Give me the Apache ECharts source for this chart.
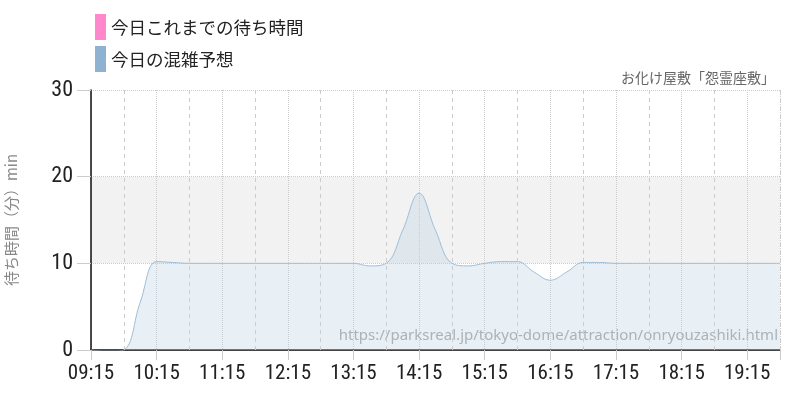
<!DOCTYPE html>
<html><head><meta charset="utf-8">
<script src="https://cdn.jsdelivr.net/npm/echarts@6/dist/echarts.min.js"></script>
<style>html,body{margin:0;padding:0;background:#fff}#c{width:800px;height:400px}</style>
</head><body><div id="c"></div>
<script>
// ---- data ----
const chartTitle = 'お化け屋敷「怨霊座敷」';
const sourceUrl = 'https://parksreal.jp/tokyo-dome/attraction/onryouzashiki.html';
const seriesNames = ['今日これまでの待ち時間', '今日の混雑予想'];
const yAxisName = '待ち時間（分）min';
const startTime = '09:15';
const endTime = '19:45';
const yTicks = [0, 10, 20, 30];
const times = ['09:15','09:30','09:45','10:00','10:15','10:30','10:45','11:00','11:15','11:30','11:45','12:00','12:15','12:30','12:45','13:00','13:15','13:30','13:45','14:00','14:15','14:30','14:45','15:00','15:15','15:30','15:45','16:00','16:15','16:30','16:45','17:00','17:15','17:30','17:45','18:00','18:15','18:30','18:45','19:00','19:15','19:30','19:45'];
const forecast = [0,-0.2,0,5.5,10.2,10.1,10,10,10,10,10,10,10,10,10,10,10,9.7,10,13.8,18.1,13.8,10,9.7,10,10.2,10.2,9.0,8.05,9.0,10.1,10.1,10,10,10,10,10,10,10,10,10,10,10];
const todayWait = [];

// ---- helpers ----
const toMin = t => { const [h, m] = t.split(':').map(Number); return h * 60 + m; };
const base = toMin(startTime);
const span = toMin(endTime) - base;
const fmt = v => { const t = base + v; const h = Math.floor(t / 60), m = t % 60; return String(h).padStart(2, '0') + ':' + String(m).padStart(2, '0'); };
const forecastData = times.map((t, i) => [toMin(t) - base, forecast[i]]);
const halfHourLines = times.filter(t => t.endsWith(':45')).map(t => ({ xAxis: toMin(t) - base }));

const numFont = "'Roboto Condensed', 'Roboto', sans-serif";
const jpFont = "'Noto Sans CJK JP', 'Noto Sans', sans-serif";

function draw() {
  const chart = echarts.init(document.getElementById('c'), null, { renderer: 'canvas' });
  chart.setOption({
    animation: false,
    backgroundColor: '#fff',
    title: {
      text: chartTitle, right: 20, top: 66,
      textStyle: { fontFamily: jpFont, fontSize: 14, fontWeight: 'normal', color: '#666' }
    },
    legend: {
      orient: 'vertical', left: 95, top: 14, padding: 0, itemWidth: 11, itemHeight: 26, itemGap: 6,
      icon: 'rect',
      data: seriesNames,
      textStyle: { fontFamily: jpFont, fontSize: 17.5, color: '#222' }
    },
    graphic: [{
      type: 'text', right: 22, top: 328,
      style: { text: sourceUrl, fontFamily: "'Noto Sans', sans-serif", fontSize: 15, fill: '#a5a5a5' }
    }],
    grid: { left: 91, right: 20, top: 90, bottom: 50, containLabel: false, outerBoundsMode: 'none' },
    xAxis: {
      type: 'value', min: 0, max: span, interval: 60,
      axisLine: { show: true, lineStyle: { color: '#111', width: 1.5 } },
      axisTick: { show: true, length: 10, lineStyle: { color: '#ccc' } },
      axisLabel: {
        margin: 13, fontFamily: numFont, fontSize: 21, color: '#222',
        formatter: v => (v % 60 === 0 ? fmt(v) : '')
      },
      splitLine: { show: true, lineStyle: { color: '#ccc', type: 'dotted' } }
    },
    yAxis: {
      type: 'value', min: yTicks[0], max: yTicks[yTicks.length - 1], interval: 10,
      name: yAxisName, nameLocation: 'middle', nameRotate: 90, nameGap: 72,
      nameTextStyle: { fontFamily: jpFont, fontSize: 15, color: '#888' },
      axisLine: { show: true, lineStyle: { color: '#111', width: 1.5 } },
      axisTick: { show: true, length: 14, lineStyle: { color: '#ccc' } },
      axisLabel: { margin: 18, fontFamily: numFont, fontSize: 22, color: '#222' },
      splitLine: { show: true, lineStyle: { color: '#ccc', type: 'dotted' } },
      splitArea: { show: true, areaStyle: { color: ['rgba(0,0,0,0)', '#f2f2f2', 'rgba(0,0,0,0)'] } }
    },
    series: [
      {
        name: seriesNames[0], type: 'line', data: todayWait,
        itemStyle: { color: '#ff88cc' }, lineStyle: { color: '#ff88cc' }, showSymbol: false
      },
      {
        name: seriesNames[1], type: 'line', data: forecastData, smooth: 0.4, showSymbol: false,
        itemStyle: { color: '#8eb2d0' },
        lineStyle: { color: '#9fbdd8', width: 1 },
        areaStyle: { color: 'rgba(185,207,227,0.46)' },
        markLine: {
          silent: true, symbol: ['none', 'none'], label: { show: false },
          lineStyle: { color: '#ccc', type: [4, 4], width: 1 },
          data: halfHourLines
        }
      }
    ]
  });
}
Promise.all([
  document.fonts.load("21px 'Roboto Condensed'"),
  document.fonts.load("17px 'Noto Sans CJK JP'"),
  document.fonts.load("15px 'Noto Sans'")
]).catch(() => {}).then(draw);
</script></body></html>
